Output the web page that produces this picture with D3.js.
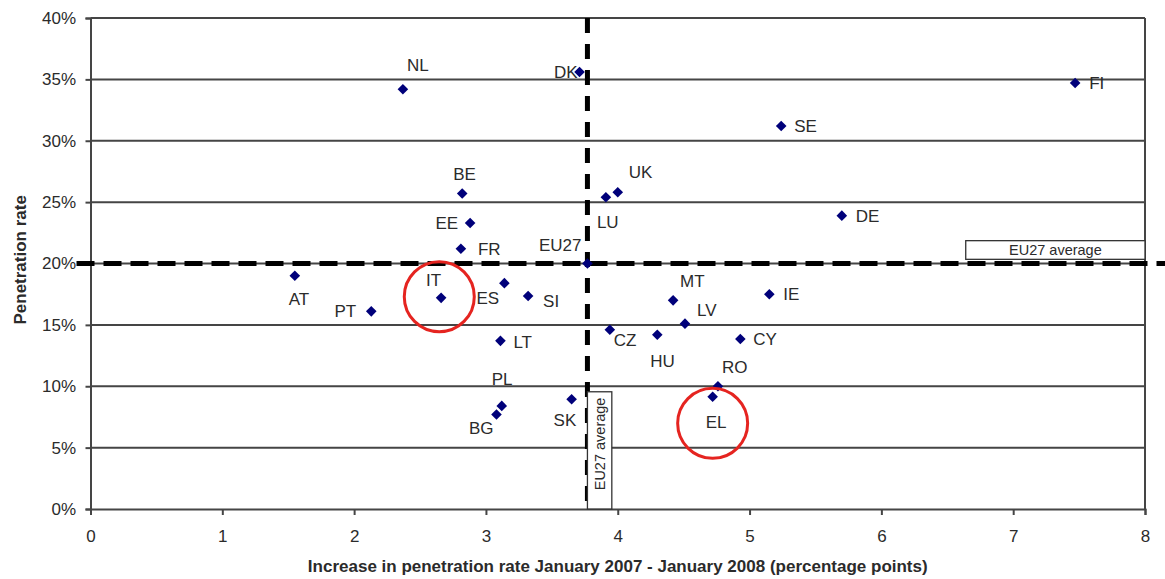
<!DOCTYPE html>
<html><head><meta charset="utf-8">
<script src="https://cdn.jsdelivr.net/npm/d3@7"></script>
<style>
body{margin:0;background:#fff;}
svg{display:block;font-family:"Liberation Sans",Arial,sans-serif;}
</style>
</head><body>
<svg id="chart" width="1165" height="579"></svg>
<script>
// ---- data ----
const countries   = ["NL","DK","FI","SE","BE","UK","LU","DE","EE","FR","AT","PT","IT","ES","SI","LT","MT","LV","IE","CZ","HU","CY","RO","EL","SK","PL","BG","EU27"];
const increase    = [2.37,3.71,7.47,5.24,2.82,4.00,3.91,5.70,2.88,2.81,1.55,2.13,2.66,3.14,3.32,3.11,4.42,4.51,5.15,3.94,4.30,4.93,4.76,4.72,3.65,3.12,3.08,3.77];
const penetration = [34.2,35.6,34.7,31.2,25.7,25.8,25.4,23.9,23.3,21.2,19.0,16.1,17.2,18.4,17.35,13.7,17.0,15.1,17.5,14.6,14.2,13.85,10.0,9.15,8.94,8.4,7.7,20.0];
const avgIncrease = 3.77;
const avgPenetration = 20.0;
const xTicks = [0,1,2,3,4,5,6,7,8];
const yTicks = [0,5,10,15,20,25,30,35,40];
const highlightNames = ["IT","EL"];
const highlightIncrease = [2.646,4.72];
const highlightPenetration = [17.3,6.98];
const avgLabel = "EU27 average";
const xTitle = "Increase in penetration rate January 2007 - January 2008 (percentage points)";
const yTitle = "Penetration rate";

// label placement (anchor, dx, dy in px)
const labelPlacement = {
  NL:["start",4,-18], DK:["end",-2,6], FI:["start",14,6], SE:["start",13,6],
  BE:["start",-9,-14], UK:["start",11,-14], LU:["start",-9,31], DE:["start",14,6],
  EE:["end",-12,6], FR:["start",17,6], AT:["start",-6,29], PT:["end",-15,6],
  IT:["start",-15,-12], ES:["start",-28,21], SI:["start",15,11], LT:["start",13,7],
  MT:["start",7,-13], LV:["start",12,-8], IE:["start",14,6], CZ:["start",4,16],
  HU:["start",-7,32], CY:["start",13,6], RO:["start",4,-13], EL:["start",-7,31],
  SK:["start",-18,27], PL:["start",-10,-21], BG:["end",-3,20], EU27:["end",-6,-13]
};

// ---- chart ----
const svg = d3.select("#chart");
const x = d3.scaleLinear().domain([0,8]).range([90.5,1145]);
const y = d3.scaleLinear().domain([0,40]).range([509,18]);
const gridColor = "#454545";
const textColor = "#2b2b2b";

// gridlines
svg.append("g").selectAll("line").data(yTicks.filter(d=>d>0)).join("line")
  .attr("x1",x(0)).attr("x2",x(8)).attr("y1",d=>y(d)).attr("y2",d=>y(d))
  .attr("stroke",gridColor).attr("stroke-width",2);
// right border
svg.append("line").attr("x1",x(8)).attr("x2",x(8)).attr("y1",y(0)).attr("y2",y(40))
  .attr("stroke",gridColor).attr("stroke-width",2);

// y axis
const yAxis = svg.append("g").attr("transform",`translate(${x(0)},0)`)
  .call(d3.axisLeft(y).tickValues(yTicks).tickFormat(d=>d+"%").tickSize(5).tickPadding(9.5));
yAxis.select(".domain").attr("stroke",gridColor).attr("stroke-width",2);
yAxis.selectAll(".tick line").attr("stroke",gridColor).attr("stroke-width",2);
yAxis.selectAll(".tick text").attr("fill",textColor).attr("font-size",17).attr("font-family","Liberation Sans, Arial, sans-serif");

// x axis
const xAxis = svg.append("g").attr("transform",`translate(0,${y(0)})`)
  .call(d3.axisBottom(x).tickValues(xTicks).tickFormat(d3.format("d")).tickSize(6).tickPadding(15));
xAxis.select(".domain").attr("stroke",gridColor).attr("stroke-width",2);
xAxis.selectAll(".tick line").attr("stroke",gridColor).attr("stroke-width",2);
xAxis.selectAll(".tick text").attr("fill",textColor).attr("font-size",17).attr("font-family","Liberation Sans, Arial, sans-serif");

// average dashed lines
svg.append("line").attr("x1",x(0)-14).attr("x2",1165).attr("y1",y(avgPenetration)).attr("y2",y(avgPenetration))
  .attr("stroke","#000").attr("stroke-width",5).attr("stroke-dasharray","18,9");
svg.append("line").attr("x1",x(avgIncrease)).attr("x2",x(avgIncrease)).attr("y1",y(40)).attr("y2",y(0))
  .attr("stroke","#000").attr("stroke-width",5).attr("stroke-dasharray","15,11");

// EU27 average label boxes
const hb = svg.append("g");
hb.append("rect").attr("x",x(6.64)).attr("y",y(21.86)).attr("width",x(8)-x(6.64)).attr("height",y(20.34)-y(21.86))
  .attr("fill","#fff").attr("stroke","#333").attr("stroke-width",1.3);
hb.append("text").attr("x",(x(6.64)+x(8))/2).attr("y",y(20.34)-4).attr("text-anchor","middle")
  .attr("font-size",14.5).attr("fill",textColor).text(avgLabel);
const vb = svg.append("g");
vb.append("rect").attr("x",x(avgIncrease)).attr("y",y(9.55)).attr("width",x(3.955)-x(avgIncrease)).attr("height",y(0)-y(9.55))
  .attr("fill","#fff").attr("stroke","#333").attr("stroke-width",1.3);
vb.append("text").attr("transform",`translate(${(x(avgIncrease)+x(3.955))/2+5},${y(5.3)}) rotate(-90)`)
  .attr("text-anchor","middle").attr("font-size",14.5).attr("fill",textColor).text(avgLabel);

// points
const pts = countries.map((c,i)=>({c, xv:increase[i], yv:penetration[i]}));
const diamond = "M0,-5.3L5.3,0L0,5.3L-5.3,0Z";
svg.append("g").selectAll("path").data(pts).join("path")
  .attr("d",diamond).attr("transform",d=>`translate(${x(d.xv)},${y(d.yv)})`)
  .attr("fill","#00007a");

// labels
svg.append("g").selectAll("text").data(pts).join("text")
  .attr("x",d=>x(d.xv)+labelPlacement[d.c][1]).attr("y",d=>y(d.yv)+labelPlacement[d.c][2])
  .attr("text-anchor",d=>labelPlacement[d.c][0])
  .attr("font-size",17).attr("fill",textColor).text(d=>d.c);

// highlight circles
svg.append("g").selectAll("circle").data(highlightNames.map((n,i)=>({n,xv:highlightIncrease[i],yv:highlightPenetration[i]}))).join("circle")
  .attr("cx",d=>x(d.xv)).attr("cy",d=>y(d.yv)).attr("r",35)
  .attr("fill","none").attr("stroke","#e52420").attr("stroke-width",3);

// axis titles
svg.append("text").attr("x",(x(0)+x(8))/2).attr("y",572).attr("text-anchor","middle")
  .attr("font-size",17).attr("font-weight","bold").attr("fill",textColor).text(xTitle);
svg.append("text").attr("transform",`translate(26,${y(20.3)}) rotate(-90)`).attr("text-anchor","middle")
  .attr("font-size",17).attr("font-weight","bold").attr("fill",textColor).text(yTitle);
</script>
</body></html>
